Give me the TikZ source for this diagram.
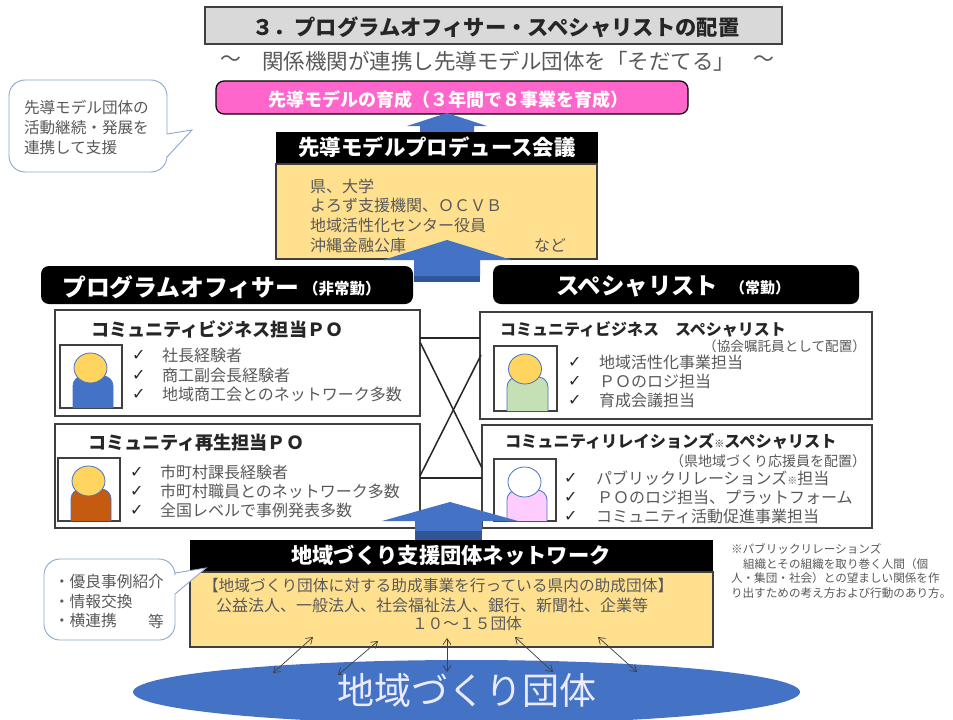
\documentclass[tikz,border=0pt]{standalone}
\usepackage{fontspec}
\setmainfont{Noto Sans CJK JP}
\newfontfamily\chkfont{DejaVu Sans}
\usetikzlibrary{arrows.meta}
\newcommand\fs[1]{\fontsize{#1}{#1}\selectfont}
\definecolor{hdrgray}{HTML}{D9D9D9}
\definecolor{ink}{HTML}{595959}
\definecolor{darkink}{HTML}{262626}
\definecolor{edge}{HTML}{404040}
\definecolor{blockblue}{HTML}{4472C4}
\definecolor{bandblue}{HTML}{2F5597}
\definecolor{sand}{HTML}{FFE08F}
\definecolor{pinkbar}{HTML}{FF66CC}
\definecolor{calloutedge}{HTML}{8FA6CF}
\definecolor{headyellow}{HTML}{FFD45F}
\definecolor{rust}{HTML}{C55A11}
\definecolor{leaf}{HTML}{C5E0B4}
\definecolor{candy}{HTML}{FFCCFF}
\tikzset{
  x=1pt,y=-1pt,
  txt/.style={anchor=west,inner sep=0pt,outer sep=0pt,text=ink},
  item/.style={txt,font=\fs{16}},
  cap/.style={txt,text=darkink,font=\fs{#1}\bfseries},
  white cap/.style={anchor=center,inner sep=0pt,text=white,font=\fs{#1}\bfseries},
  chk/.style={txt,text=darkink,font=\chkfont\fs{16}},
  card/.style={draw=edge,line width=1.4pt,fill=white},
  frame/.style={draw=edge,line width=1.3pt,fill=white},
  callout/.style={draw=calloutedge,line width=0.9pt,fill=white,rounded corners=0pt},
  block/.style={fill=blockblue,draw=none},
  band/.style={fill=bandblue,draw=none},
  link/.style={draw=darkink,line width=1.5pt},
  twoway/.style={draw=edge,line width=0.7pt,{Straight Barb[length=6pt,width=8pt]}-{Straight Barb[length=6pt,width=8pt]}},
  pill/.style={fill=black,rounded corners=8pt},
  headshape/.style={draw=blockblue,line width=0.8pt,fill=headyellow},
  bodyshape/.style={draw=blockblue,line width=0.8pt,rounded corners=10pt},
}
\newcommand\person[6]{%
  \draw[frame] (#1,#4) -- (#1,#2) -- (#3,#2) -- (#3,#4) -- cycle;
  \path[bodyshape,fill=#5] ({#1+13},#4) -- ({#1+13},{#2+31}) -- ({#3-9},{#2+31}) -- ({#3-9},#4);
  \draw[headshape,fill=#6] ({(#1+#3)/2-0.5},{#2+23}) ellipse (16.5 and 15);
}
\begin{document}
\begin{tikzpicture}
\useasboundingbox (0,0) rectangle (953,720);
\fill[white] (0,0) rectangle (953,720);

% title
\draw[draw=edge,line width=1.3pt,fill=hdrgray] (205,7) rectangle (782,44);
\node[cap=21.3] (title) at (252,27) {３．プログラムオフィサー・スペシャリストの配置};
\node[txt,font=\fs{20.9}] (subl) at (220,61) {～};
\node[txt,font=\fs{21.5}] (subtitle) at (262,61) {関係機関が連携し先導モデル団体を「そだてる」};
\node[txt,font=\fs{20.9}] (subr) at (753,61) {～};

% pink bar
\draw[fill=pinkbar,draw=black,line width=1.2pt,rounded corners=8pt] (216,81) rectangle (688,114);
\node[white cap=18] (pinktext) at (448,100) {先導モデルの育成（３年間で８事業を育成）};

% arrow into pink bar
\fill[block] (447,113) -- (487,126) -- (474,126) -- (474,133) -- (420,133) -- (420,126) -- (407,126) -- cycle;

% callout 1
\draw[callout] (9,96) arc (180:270:16) -- (151,80) arc (270:360:16) -- (167,134) -- (192,130) -- (167,157) -- (167,156) arc (0:90:16) -- (25,172) arc (90:180:16) -- cycle;
\node[item,font=\fs{15.6}] (c1a) at (24,108) {先導モデル団体の};
\node[item,font=\fs{15.6}] (c1b) at (24,128) {活動継続・発展を};
\node[item,font=\fs{15.6}] (c1c) at (24,148) {連携して支援};

% council
\fill[black] (276,132) rectangle (598,164);
\node[white cap=21.4] (council) at (437,147) {先導モデルプロデュース会議};
\draw[draw=edge,line width=1.3pt,fill=sand] (276,164) rectangle (597,259);
\node[item] (m1) at (310,186) {県、大学};
\node[item] (m2) at (310,205) {よろず支援機関、ＯＣＶＢ};
\node[item] (m3) at (310,225) {地域活性化センター役員};
\node[item] (m4) at (310,245) {沖縄金融公庫};
\node[item] (m5) at (534,245) {など};

% PO/specialist pills
\fill[band] (414,275) rectangle (480,282);
\fill[block] (447,240) -- (512,260) -- (480,260) -- (480,276) -- (414,276) -- (414,260) -- (383,260) -- cycle;
\fill[pill] (41,266) rectangle (413,304);
\node[anchor=west,inner sep=0pt,text=white,font=\fs{23.8}\bfseries] (po) at (62,287) {プログラムオフィサー};
\node[anchor=west,inner sep=0pt,text=white,font=\fs{15.5}\bfseries] (pob) at (303,289) {（非常勤）};
\fill[pill] (493,265) rectangle (859,304);
\node[anchor=west,inner sep=0pt,text=white,font=\fs{23.4}\bfseries] (sp) at (556,286) {スペシャリスト};
\node[anchor=west,inner sep=0pt,text=white,font=\fs{15}\bfseries] (spb) at (730,288) {（常勤）};

% cards
\draw[card] (55,310) rectangle (420,416);
\draw[card] (55,424) rectangle (420,528);
\draw[card] (480,312) rectangle (872,419);
\draw[card] (482,425) rectangle (872,528);

% cross links
\coordinate (la) at (420,338); \coordinate (ra) at (480,338);
\coordinate (lb) at (420,478); \coordinate (rb) at (482,478);
\coordinate (lc) at (420,342); \coordinate (rc) at (482,468);
\coordinate (ld) at (420,476); \coordinate (rd) at (481,355);
\draw[link] (la) -- (ra);
\draw[link] (lb) -- (rb);
\draw[link] (lc) -- (rc);
\draw[link] (ld) -- (rd);

% card 1
\node[cap=18.1] (t1) at (91,329) {コミュニティビジネス担当ＰＯ};
\person{60}{345}{122}{408}{blockblue}{headyellow}
\node[chk] (k11) at (132,355) {✓}; \node[item] (i11) at (162,355) {社長経験者};
\node[chk] (k12) at (132,375) {✓}; \node[item] (i12) at (162,375) {商工副会長経験者};
\node[chk] (k13) at (132,394) {✓}; \node[item] (i13) at (162,394) {地域商工会とのネットワーク多数};

% card 2
\node[cap=18.1] (t2) at (88,443) {コミュニティ再生担当ＰＯ};
\person{58}{458}{120}{521}{rust}{headyellow}
\node[chk] (k21) at (130,472) {✓}; \node[item] (i21) at (160,472) {市町村課長経験者};
\node[chk] (k22) at (130,491) {✓}; \node[item] (i22) at (160,491) {市町村職員とのネットワーク多数};
\node[chk] (k23) at (130,510) {✓}; \node[item] (i23) at (160,510) {全国レベルで事例発表多数};

% card 3
\node[cap=16] (t3) at (500,329) {コミュニティビジネス　スペシャリスト};
\node[txt,font=\fs{13.6},anchor=east] (n3) at (866,346) {（協会嘱託員として配置）};
\person{494}{346}{557}{411}{leaf}{headyellow}
\node[chk] (k31) at (568,362) {✓}; \node[item] (i31) at (599,362) {地域活性化事業担当};
\node[chk] (k32) at (568,381) {✓}; \node[item] (i32) at (599,381) {ＰＯのロジ担当};
\node[chk] (k33) at (568,400) {✓}; \node[item] (i33) at (599,400) {育成会議担当};

% card 4
\node[cap=16.2] (t4) at (505,441) {コミュニティリレイションズ{\fs{10}※}スペシャリスト};
\node[txt,font=\fs{14},anchor=east] (n4) at (866,461) {（県地域づくり応援員を配置）};
\person{494}{459}{556}{521}{candy}{white}
\node[chk] (k41) at (564,478) {✓}; \node[item] (i41) at (596,478) {パブリックリレーションズ{\fs{10}※}担当};
\node[chk] (k42) at (564,497) {✓}; \node[item] (i42) at (597,497) {ＰＯのロジ担当、プラットフォーム};
\node[chk] (k43) at (564,516) {✓}; \node[item] (i43) at (596,516) {コミュニティ活動促進事業担当};

% arrow 3
\fill[block] (450,502) -- (518,521) -- (482,521) -- (482,532) -- (415,532) -- (415,521) -- (382,521) -- cycle;
\fill[band] (415,531) rectangle (482,541);

% network
\fill[black] (190,540) rectangle (713,572);
\node[white cap=21.3] (net) at (451,555) {地域づくり支援団体ネットワーク};
\draw[draw=edge,line width=1.3pt,fill=sand] (190,572) rectangle (713,647);
\node[item,font=\fs{15.7}] (n1) at (203,586) {【地域づくり団体に対する助成事業を行っている県内の助成団体】};
\node[item,font=\fs{16}] (n2) at (216,605) {公益法人、一般法人、社会福祉法人、銀行、新聞社、企業等};
\node[item,font=\fs{15.7}] (n3b) at (412,624) {１０～１５団体};

% callout 2
\draw[callout] (44,575) arc (180:270:16) -- (159,559) arc (270:360:16) -- (175,573) -- (206,568) -- (175,594) -- (175,624) arc (0:90:16) -- (60,640) arc (90:180:16) -- cycle;
\node[item,font=\fs{15.7}] (c2a) at (54,582) {・優良事例紹介};
\node[item,font=\fs{15.7}] (c2b) at (54,602) {・情報交換};
\node[item,font=\fs{15.7}] (c2c) at (54,621) {・横連携};
\node[item,font=\fs{15.7}] (c2d) at (148,621) {等};

% note
\node[txt,font=\fs{11.6}] (f1) at (731,549) {※パブリックリレーションズ};
\node[txt,font=\fs{11.6}] (f2) at (743,564) {組織とその組織を取り巻く人間（個};
\node[txt,font=\fs{11.6}] (f3) at (731,578) {人・集団・社会）との望ましい関係を作};
\node[txt,font=\fs{11.6}] (f4) at (731,593) {り出すための考え方および行動のあり方。};

% ellipse
\begin{scope}
\clip (0,0) rectangle (953,720);
\fill[blockblue] (466.5,692) ellipse (333.5 and 32);
\end{scope}
\node[anchor=center,inner sep=0pt,text=white!92!blue,font=\fs{37}] (region) at (467,690) {地域づくり団体};

% two-way arrows
\coordinate (a1) at (313,637); \coordinate (b1) at (273,673);
\coordinate (a2) at (378,641); \coordinate (b2) at (338,675);
\coordinate (a3) at (447,638); \coordinate (b3) at (447,672);
\coordinate (a4) at (515,637); \coordinate (b4) at (553,672);
\coordinate (a5) at (598,637); \coordinate (b5) at (637,672);
\draw[twoway] (a1) -- (b1);
\draw[twoway] (a2) -- (b2);
\draw[twoway] (a3) -- (b3);
\draw[twoway] (a4) -- (b4);
\draw[twoway] (a5) -- (b5);
\end{tikzpicture}
\end{document}
